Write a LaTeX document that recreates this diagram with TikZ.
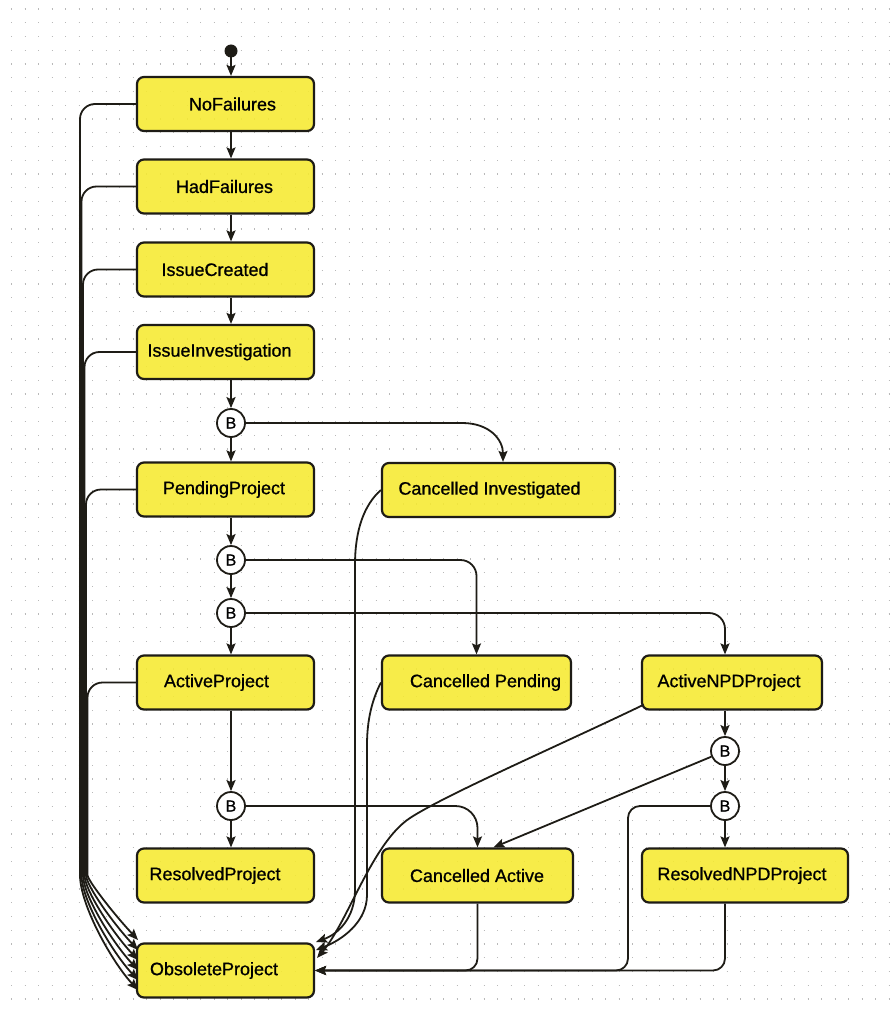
\documentclass[tikz,border=0pt]{standalone}
\usepackage{fontspec}
\setmainfont{Liberation Sans}
\newfontfamily\lblfont[FakeBold=0.8]{Liberation Sans}
\usetikzlibrary{arrows.meta,calc}
\definecolor{boxy}{RGB}{247,234,48}
\definecolor{edgec}{RGB}{30,28,22}
\definecolor{dotc}{RGB}{185,185,185}
\tikzset{
 sbox/.style={draw=edgec, line width=2.2pt, fill=boxy, fill opacity=0.88, text opacity=1, rounded corners=7pt, inner sep=0pt, minimum height=54pt},
 lbl/.style={font=\lblfont\fontsize{18}{18}\selectfont, text=black},
 bnode/.style={circle, draw=edgec, line width=1.8pt, fill=white, minimum size=28pt, inner sep=0pt, font=\lblfont\fontsize{16}{16}\selectfont},
 arr/.style={draw=edgec, line width=1.8pt, -{Stealth[length=11pt,width=9pt,inset=2pt]}},
}
\begin{document}
\begin{tikzpicture}[x=1pt,y=-1pt]
\useasboundingbox (0,0) rectangle (893,1011);
\fill[white] (0,0) rectangle (893,1011);
% dotted background grid
\foreach \yy in {0,...,73} {
  \draw[dotc, line width=1.3pt, dash pattern=on 1.3pt off 12.2pt] (11,{9+\yy*13.75}) -- (893,{9+\yy*13.75});
}
% initial state
\fill[edgec] (231,51) circle (6.5pt) coordinate (start);
% left column
\node[sbox, minimum width=177pt, label={[lbl,xshift=7pt]center:NoFailures}] (nof) at (225.5,104) {};
\node[sbox, minimum width=177pt, label={[lbl,xshift=-1pt]center:HadFailures}] (hf) at (225.5,186.5) {};
\node[sbox, minimum width=177pt, label={[lbl,xshift=-10.5pt]center:IssueCreated}] (ic) at (225.5,269.5) {};
\node[sbox, minimum width=177pt, label={[lbl,xshift=-6pt]center:IssueInvestigation}] (ii) at (225.5,352) {};
\node[bnode] (b1) at (231,423) {B};
\node[sbox, minimum width=177pt, label={[lbl,xshift=-1.5pt]center:PendingProject}] (pp) at (225.5,489.5) {};
\node[bnode] (b2) at (231,560) {B};
\node[bnode] (b3) at (231,613) {B};
\node[sbox, minimum width=177pt, label={[lbl,xshift=-9pt]center:ActiveProject}] (ap) at (225.5,682.5) {};
\node[bnode] (b6) at (231,806) {B};
\node[sbox, minimum width=177pt, label={[lbl,xshift=-10.5pt]center:ResolvedProject}] (rp) at (225.5,875.5) {};
\node[sbox, minimum width=177pt, label={[lbl,xshift=-11.5pt]center:ObsoleteProject}] (op) at (225.5,970.5) {};
% right part
\node[sbox, minimum width=233pt, label={[lbl,xshift=-9pt]center:Cancelled Investigated}] (ci) at (498.5,490) {};
\node[sbox, minimum width=189pt, label={[lbl,xshift=9pt]center:Cancelled Pending}] (cp) at (476.5,682.5) {};
\node[sbox, minimum width=180pt, label={[lbl,xshift=-3pt]center:ActiveNPDProject}] (anpd) at (732,682.5) {};
\node[bnode] (b4) at (725,751) {B};
\node[bnode] (b5) at (725,806) {B};
\node[sbox, minimum width=191pt, label={[lbl,xshift=-0.5pt]center:Cancelled Active}] (ca) at (477.5,875.5) {};
\node[sbox, minimum width=206pt, label={[lbl,xshift=-3pt]center:ResolvedNPDProject}] (rnpd) at (745,875.5) {};
% main column
\draw[arr] (start) -- (nof.north -| start);
\draw[arr] (nof.south -| b1) -- (hf.north -| b1);
\draw[arr] (hf.south -| b1) -- (ic.north -| b1);
\draw[arr] (ic.south -| b1) -- (ii.north -| b1);
\draw[arr] (ii.south -| b1) -- (b1.north);
\draw[arr] (b1.south) -- (pp.north -| b1);
\draw[arr] (pp.south -| b1) -- (b2.north);
\draw[arr] (b2.south) -- (b3.north);
\draw[arr] (b3.south) -- (ap.north -| b1);
\draw[arr] (ap.south -| b1) -- (b6.north);
\draw[arr] (b6.south) -- (rp.north -| b1);
% branches
\draw[arr] (b1.east) -- (462,423) .. controls (490,423) and (503,440) .. ($(ci.north)+(4.5,0)$);
\draw[arr, rounded corners=16pt] (b2.east) -| (cp.north);
\draw[arr, rounded corners=16pt] (b3.east) -| (b4 |- anpd.north);
\draw[arr] (b4 |- anpd.south) -- (b4.north);
\draw[arr] (b4.south) -- (b5.north);
\draw[arr] (b5.south) -- (b5 |- rnpd.north);
\draw[arr, rounded corners=22pt] (b6.east) -| (ca.north);
\draw[arr] (b4) -- ($(ca.north)+(16,0)$);
% left bundle to ObsoleteProject
\draw[arr, rounded corners=15pt] (nof.west) -| (80,860) .. controls (80,905) and (112,962) .. (138,990);
\draw[arr, rounded corners=15pt] (hf.west) -| (81.5,860) .. controls (81.5,900) and (112,952) .. (138,980);
\draw[arr, rounded corners=15pt] (ic.west) -| (83,860) .. controls (83,895) and (112,942) .. (138,970);
\draw[arr, rounded corners=15pt] (ii.west) -| (84.5,860) .. controls (84.5,890) and (112,932) .. (138,960);
\draw[arr, rounded corners=15pt] (pp.west) -| (86,860) .. controls (86,885) and (112,922) .. (138,950);
\draw[arr, rounded corners=15pt] (ap.west) -| (87.5,860) .. controls (87.5,880) and (112,912) .. (138,940);
% right side to ObsoleteProject
\draw[arr] (ci.west) .. controls (364,505) and (355,530) .. (355,565) -- (355,890) .. controls (355,918) and (338,934) .. (316,942);
\draw[arr] (cp.west) .. controls (372,700) and (367,720) .. (367,745) -- (367,895) .. controls (367,922) and (342,940) .. (316,950);
\draw[arr] ($(anpd.south west)+(3,-6)$) .. controls (560,745) and (445,795) .. (410,818) .. controls (372,843) and (348,922) .. (317,958);
\draw[arr, rounded corners=12pt] (ca.south) |- (op.east);
\draw[arr, rounded corners=12pt] (b5 |- rnpd.south) |- (op.east);
\draw[arr, rounded corners=12pt] (b5.west) -| (628,940) |- (op.east);
\end{tikzpicture}
\end{document}
